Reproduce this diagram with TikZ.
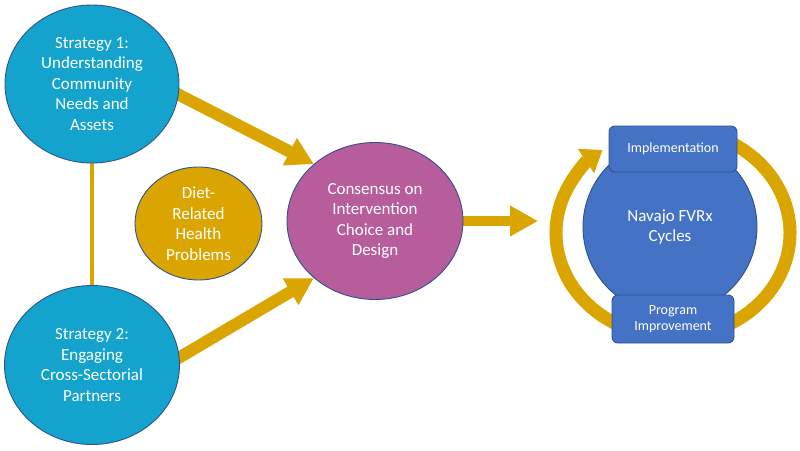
\documentclass[tikz,border=0pt]{standalone}
\usepackage{fontspec}
\setmainfont{Carlito}
\usetikzlibrary{arrows.meta,shapes.geometric}
\pgfdeclarelayer{background}
\pgfsetlayers{background,main}
\definecolor{cyanfill}{RGB}{19,163,204}
\definecolor{goldfill}{RGB}{218,165,0}
\definecolor{magfill}{RGB}{183,93,155}
\definecolor{bluefill}{RGB}{68,114,196}
\definecolor{outl}{RGB}{47,82,143}
\begin{document}
\begin{tikzpicture}[x=1pt,y=1pt,
  blob/.style={ellipse, draw=outl, line width=0.9pt, text=white, align=center,
    inner sep=0pt, font=\fontsize{17}{20.5}\selectfont},
  bigarrow/.style={draw=goldfill, line width=12pt, shorten <=-8pt,
    -{Triangle[length=27pt,width=29pt]}},
  ringarc/.style={draw=goldfill, line width=13pt},
  boxnode/.style={rectangle, rounded corners=6pt, draw=outl, line width=0.9pt,
    fill=bluefill, text=white, align=center, inner sep=0pt,
    font=\fontsize{14}{16.5}\selectfont}]
\useasboundingbox (0,0) rectangle (800,-450);

% main nodes
\node[blob, fill=cyanfill, minimum width=174, minimum height=158] (s1) at (92,-84)
  {Strategy 1:\\Understanding\\Community\\Needs and\\Assets};
\node[blob, fill=cyanfill, minimum width=175, minimum height=159] (s2) at (92,-365)
  {Strategy 2:\\Engaging\\Cross-Sectorial\\Partners};
\node[blob, fill=goldfill, minimum width=127, minimum height=113] (diet) at (198.5,-223.5)
  {Diet-\\Related\\Health\\Problems};
\node[blob, fill=magfill, minimum width=176, minimum height=157] (cons) at (375,-221)
  {Consensus on\\Intervention\\Choice and\\Design};
\coordinate (tip) at (538,-221);

% cycle
\coordinate (rc) at (673,-233);
\draw[ringarc, -{Triangle[length=20pt,width=28pt]}]
  ([shift={(245:117 and 104)}]rc) arc[start angle=245, end angle=127, x radius=117, y radius=104];
\draw[ringarc]
  ([shift={(65:117 and 104)}]rc) arc[start angle=65, end angle=-65, x radius=117, y radius=104];
\node[blob, fill=bluefill, minimum width=174, minimum height=174] (nav) at (670,-227)
  {Navajo FVRx\\Cycles};
\node[boxnode, minimum width=128, minimum height=46] (impl) at (673,-149) {Implementation};
\node[boxnode, minimum width=122, minimum height=48] (prog) at (673,-319) {Program\\Improvement};

% connectors
\begin{pgfonlayer}{background}
\draw[goldfill, line width=3.5pt] (s1.south) -- (s2.north);
\draw[bigarrow] (s1.-7) -- (cons.137);
\draw[bigarrow] (s2.5) -- (cons.223);
\draw[draw=goldfill, line width=10pt, shorten <=-4pt,
  -{Triangle[length=28pt,width=29pt]}] (cons.east) -- (tip);
\end{pgfonlayer}
\end{tikzpicture}
\end{document}
